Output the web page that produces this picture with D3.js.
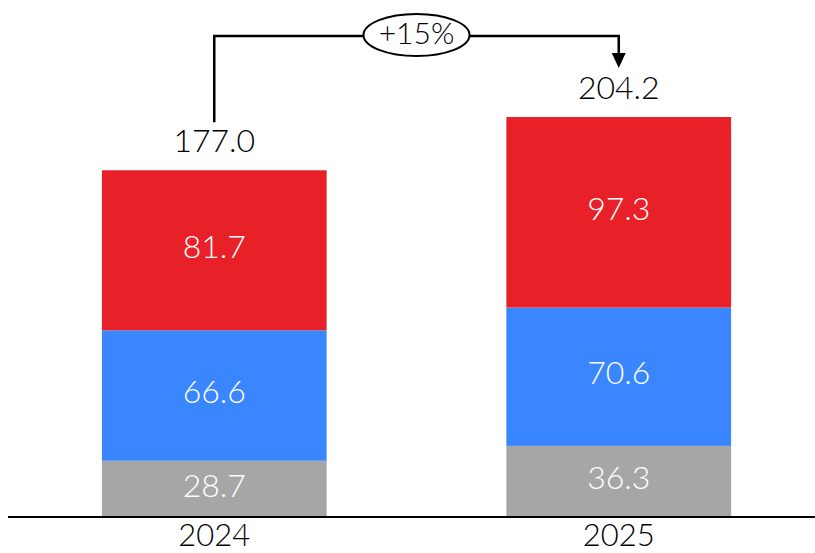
<!DOCTYPE html>
<html>
<head>
<meta charset="utf-8">
<script src="https://cdn.jsdelivr.net/npm/d3@7"></script>
<style>
  html, body { margin: 0; padding: 0; background: #fff; }
  svg { display: block; }
</style>
</head>
<body>
<svg id="chart" width="815" height="553"></svg>
<script>
// Yearly totals split into three stacked components
const years = ["2024", "2025"];
const seriesKeys = ["gray", "blue", "red"];
const grayValues = [28.7, 36.3];
const blueValues = [66.6, 70.6];
const redValues = [81.7, 97.3];
const totalLabels = ["177.0", "204.2"];
const growthLabel = "+15%";

const colors = { gray: "#A6A6A6", blue: "#3A86FF", red: "#E82027" };

const rows = years.map((y, i) => ({
  year: y,
  gray: grayValues[i],
  blue: blueValues[i],
  red: redValues[i],
  total: +totalLabels[i]
}));

const W = 815, H = 553;
const baseY = 517;
const svg = d3.select("#chart");

const x = d3.scaleBand()
  .domain(years)
  .range([21, 812])
  .paddingInner(0.4444)
  .paddingOuter(0.2);

const y = d3.scaleLinear()
  .domain([0, 204.2])
  .range([baseY, 117]);

const stack = d3.stack().keys(seriesKeys);
const stacked = stack(rows);

const labelFont = "Lato, 'Open Sans', sans-serif";

// stacked segments
const layers = svg.append("g").selectAll("g")
  .data(stacked)
  .join("g")
  .attr("fill", d => colors[d.key]);

layers.selectAll("rect")
  .data(d => d)
  .join("rect")
  .attr("x", d => x(d.data.year))
  .attr("width", x.bandwidth())
  .attr("y", d => y(d[1]))
  .attr("height", d => y(d[0]) - y(d[1]));

// segment value labels
layers.selectAll("text")
  .data(d => d.map(s => ({ s, key: d.key })))
  .join("text")
  .attr("x", d => x(d.s.data.year) + x.bandwidth() / 2)
  .attr("y", d => (y(d.s[0]) + y(d.s[1])) / 2)
  .attr("dy", "0.24em")
  .attr("text-anchor", "middle")
  .attr("fill", "#fff")
  .attr("font-family", labelFont)
  .attr("font-weight", 300)
  .attr("font-size", 32)
  .text(d => d.s.data[d.key].toFixed(1));

// totals above bars
svg.append("g").selectAll("text")
  .data(rows)
  .join("text")
  .attr("x", d => x(d.year) + x.bandwidth() / 2)
  .attr("y", d => y(d.total) - 18)
  .attr("text-anchor", "middle")
  .attr("fill", "#000")
  .attr("font-family", labelFont)
  .attr("font-weight", 300)
  .attr("font-size", 32)
  .text((d, i) => totalLabels[i]);

// baseline axis
const axis = svg.append("g")
  .attr("transform", `translate(0,${baseY})`)
  .call(d3.axisBottom(x).tickSize(0).tickPadding(7.5));
axis.select(".domain").attr("d", `M8,0H${W}`).attr("stroke", "#000").attr("stroke-width", 2);
axis.selectAll(".tick text")
  .attr("font-family", labelFont)
  .attr("font-weight", 300)
  .attr("font-size", 31)
  .attr("fill", "#000")
  .attr("dy", "0.7em");

// growth connector between the two totals
const x0 = x(years[0]) + x.bandwidth() / 2;
const x1 = x(years[1]) + x.bandwidth() / 2;
const topY = 36;
const startY = y(rows[0].total) - 48;
const tipY = y(rows[1].total) - 49;

svg.append("path")
  .attr("d", `M${x0},${startY}V${topY}H${x1}V${tipY - 14}`)
  .attr("fill", "none")
  .attr("stroke", "#000")
  .attr("stroke-width", 2.5);

svg.append("path")
  .attr("d", `M${x1 - 7},${tipY - 15}L${x1 + 7},${tipY - 15}L${x1},${tipY}Z`)
  .attr("fill", "#000");

const mid = (x0 + x1) / 2;
svg.append("ellipse")
  .attr("cx", mid)
  .attr("cy", topY - 1)
  .attr("rx", 53)
  .attr("ry", 21)
  .attr("fill", "#fff")
  .attr("stroke", "#000")
  .attr("stroke-width", 2);

svg.append("text")
  .attr("x", mid)
  .attr("y", topY - 1)
  .attr("dy", "0.3em")
  .attr("text-anchor", "middle")
  .attr("font-family", labelFont)
  .attr("font-weight", 300)
  .attr("font-size", 30)
  .attr("fill", "#000")
  .text(growthLabel);
</script>
</body>
</html>
